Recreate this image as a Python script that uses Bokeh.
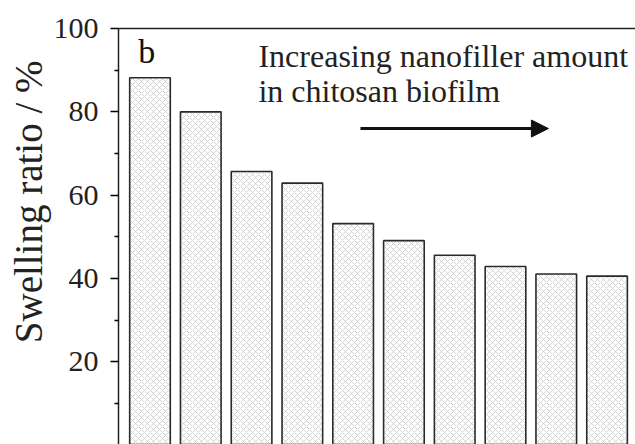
import math
from bokeh.plotting import figure
from bokeh.models import (Range1d, FixedTicker, LinearAxis, Label, Arrow, NormalHead,
                          ColumnDataSource, Title)
from bokeh.embed import file_html
from bokeh.resources import INLINE

samples = [1, 2, 3, 4, 5, 6, 7, 8, 9, 10]
swelling = [88.2, 80.0, 65.7, 62.9, 53.2, 49.1, 45.6, 42.9, 41.1, 40.6]
y_ticks = [20, 40, 60, 80, 100]
y_minor = [10, 30, 50, 70, 90]

FONT = "Liberation Serif"

p = figure(width=635, height=444, output_backend="svg", toolbar_location=None,
           x_range=Range1d(0.38, 10.56), y_range=Range1d(0.2, 100),
           x_axis_location=None, y_axis_location="left",
           min_border_left=118, min_border_top=28, min_border_bottom=0, min_border_right=0)
p.grid.visible = False
p.outline_line_color = None
p.background_fill_color = "white"
p.border_fill_color = "white"

src = ColumnDataSource(dict(x=samples, top=swelling))
p.vbar(x="x", top="top", bottom=0, width=0.8, source=src,
       fill_color="white", line_color="#2a2a2a", line_width=1.6,
       hatch_pattern="diagonal_cross", hatch_color="#c8c8c8",
       hatch_scale=6, hatch_weight=0.8)

ax = p.yaxis[0]
ax.ticker = FixedTicker(ticks=y_ticks, minor_ticks=y_minor)
ax.major_label_text_font = FONT
ax.major_label_text_font_size = "30px"
ax.major_label_text_color = "#222222"
ax.major_label_standoff = 12
ax.major_tick_out = 8
ax.major_tick_in = 0
ax.minor_tick_out = 4
ax.minor_tick_in = 0
ax.axis_line_color = "#222222"
ax.axis_line_width = 1.5
ax.major_tick_line_width = 1.5
ax.minor_tick_line_width = 1.5

top = LinearAxis(major_tick_line_color=None, minor_tick_line_color=None,
                 major_label_text_font_size="0px", axis_line_color="#222222",
                 axis_line_width=1.5, ticker=FixedTicker(ticks=[]))
p.add_layout(top, "above")

p.add_layout(Title(text="Swelling ratio / %", align="right", offset=32, standoff=0,
                   vertical_align="middle", text_font=FONT, text_font_size="39px",
                   text_font_style="normal", text_color="#222222"), "left")

p.add_layout(Label(x=0.77, y=94.4, text="b", text_font=FONT, text_font_size="34px",
                   text_color="#111111", text_baseline="alphabetic"))
p.add_layout(Label(x=3.136, y=93.3, text="Increasing nanofiller amount",
                   text_font=FONT, text_font_size="32px", text_color="#222222",
                   text_baseline="alphabetic"))
p.add_layout(Label(x=3.136, y=85.0, text="in chitosan biofilm",
                   text_font=FONT, text_font_size="32px", text_color="#222222",
                   text_baseline="alphabetic"))

p.add_layout(Arrow(x_start=5.144, y_start=76.0, x_end=8.845, y_end=76.0,
                   line_width=3, line_color="#111111",
                   end=NormalHead(size=17, fill_color="#111111", line_color="#111111")))

open("out.html", "w").write(file_html(p, INLINE))
